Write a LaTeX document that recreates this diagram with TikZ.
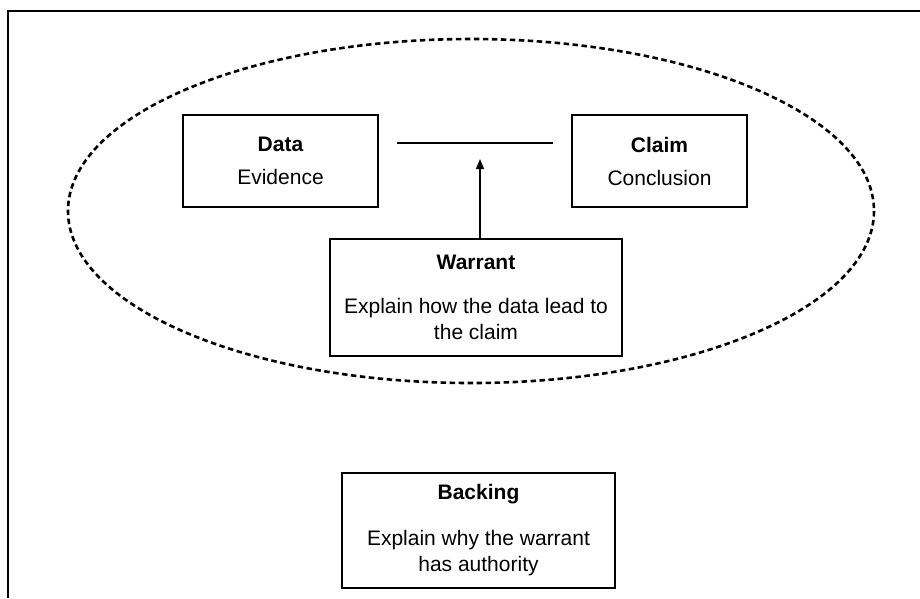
\documentclass[tikz,border=0pt]{standalone}
\usepackage{fontspec}
\setmainfont{Liberation Sans}
\usetikzlibrary{arrows.meta}
\begin{document}
\begin{tikzpicture}[x=1pt,y=-1pt,
  box/.style={draw,line width=1.8pt,inner sep=0pt,align=center,
    font=\fontsize{21}{26}\selectfont},
  frameline/.style={line width=2pt},
  link/.style={line width=1.6pt},
  oval/.style={line width=2.6pt,dash pattern=on 5.5pt off 3.5pt}]
\useasboundingbox (0,0) rectangle (920,598);
% frame (top and left edges)
\coordinate (ftr) at (920,11);
\coordinate (ftl) at (8,11);
\coordinate (fbl) at (8,598);
\draw[frameline] (ftr) -- (ftl) -- (fbl);
% dashed ellipse
\draw[oval] (471,211) ellipse [x radius=403, y radius=172];
% boxes
\node[box,minimum width=195pt,minimum height=92pt] (data) at (280.5,161)
  {\textbf{Data}\\[7pt]Evidence};
\node[box,minimum width=175pt,minimum height=92pt] (claim) at (659.5,161)
  {\textbf{Claim}\\[7pt]Conclusion};
\node[box,minimum width=292pt,minimum height=117pt] (warrant) at (476,297.5)
  {\textbf{Warrant}\\[18pt]Explain how the data lead to\\the claim};
\node[box,minimum width=273pt,minimum height=115pt] (backing) at (478.5,530.5)
  {\textbf{Backing}\\[20pt]Explain why the warrant\\has authority};
% data-claim line and warrant arrow
\coordinate (l1) at (397,143);
\coordinate (l2) at (553,143);
\coordinate (tip) at (480,159);
\draw[link] (l1) -- (l2);
\draw[link,-{Triangle[length=10pt,width=8pt]}] (warrant.north -| tip) -- (tip);
\end{tikzpicture}
\end{document}
